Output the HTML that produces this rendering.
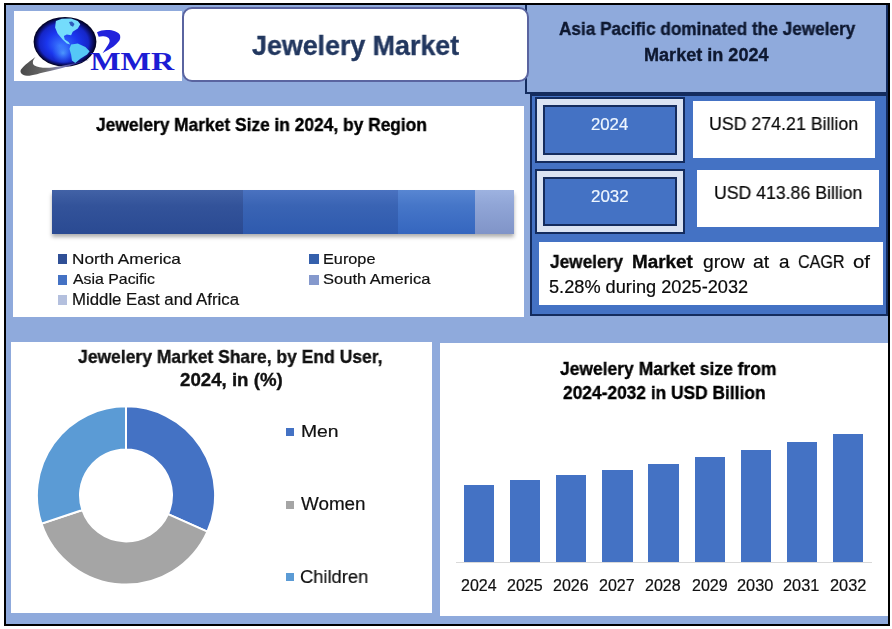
<!DOCTYPE html>
<html><head><meta charset="utf-8"><style>
html,body{margin:0;padding:0;}
body{width:892px;height:629px;position:relative;overflow:hidden;background:#fff;font-family:"Liberation Sans", sans-serif;}
.a{position:absolute;box-sizing:border-box;}
.t{position:absolute;white-space:nowrap;line-height:1;transform-origin:0 0;will-change:transform;}
.t{-webkit-text-stroke:0.2px currentColor;}
.t[style*="font-weight:700"]{-webkit-text-stroke:0.35px currentColor;}
</style></head>
<body>
<div class="a" style="left:4px;top:3px;width:886.00px;height:623.00px;border:2px solid #000;background:#8faadc;"></div>
<div class="a" style="left:14px;top:11px;width:168.00px;height:69.50px;background:#fff;"></div>
<div class="a" style="left:525px;top:5px;width:363.00px;height:89.00px;border-left:2px solid #142c5e;border-right:2px solid #142c5e;border-bottom:2px solid #142c5e;background:#8faadc;"></div>
<div class="a" style="left:182px;top:7px;width:346.60px;height:75.00px;border:2px solid #5a64a0;border-radius:10px;background:#fff;"></div>
<div class="a" style="left:13px;top:106px;width:511.00px;height:211.00px;background:#fff;"></div>
<div class="a" style="left:530px;top:94px;width:358.00px;height:222.00px;border:2px solid #142c5e;background:#4472c4;"></div>
<div class="a" style="left:535px;top:97px;width:150.00px;height:66.00px;border:2px solid #142c5e;background:#dae3f3;"></div>
<div class="a" style="left:543px;top:105px;width:134.00px;height:50.00px;border:2px solid #142c5e;background:#4472c4;"></div>
<div class="a" style="left:535px;top:168.5px;width:150.00px;height:65.80px;border:2px solid #142c5e;background:#dae3f3;"></div>
<div class="a" style="left:543px;top:176.5px;width:134.00px;height:49.80px;border:2px solid #142c5e;background:#4472c4;"></div>
<div class="a" style="left:693px;top:101px;width:182.40px;height:57.00px;background:#fff;"></div>
<div class="a" style="left:696.7px;top:169.7px;width:182.50px;height:57.50px;background:#fff;"></div>
<div class="a" style="left:539px;top:242.4px;width:344.00px;height:62.90px;background:#fff;"></div>
<div class="a" style="left:52px;top:191px;width:461.70px;height:42.50px;background:#888;box-shadow:0 3px 4px rgba(0,0,0,0.32);"></div>
<div class="a" style="left:52px;top:190px;width:191.00px;height:43.50px;background:linear-gradient(#4262a6,#33539a 35%,#2a4a92);"></div>
<div class="a" style="left:243px;top:190px;width:154.70px;height:43.50px;background:linear-gradient(#4a72c0,#3a64b4 35%,#2e5aae);"></div>
<div class="a" style="left:397.7px;top:190px;width:77.30px;height:43.50px;background:linear-gradient(#5886d2,#4676c8 35%,#3566bf);"></div>
<div class="a" style="left:475px;top:190px;width:38.70px;height:43.50px;background:linear-gradient(#9db2e0,#90a5d6 35%,#8094c8);"></div>
<div class="a" style="left:57.8px;top:254.4px;width:9.60px;height:9.60px;background:#2f4f96;"></div>
<div class="a" style="left:57.8px;top:275.3px;width:9.60px;height:9.60px;background:#4472c4;"></div>
<div class="a" style="left:57.8px;top:295.4px;width:9.60px;height:9.60px;background:#b4c0de;"></div>
<div class="a" style="left:309.2px;top:254.2px;width:9.60px;height:9.60px;background:#3560ac;"></div>
<div class="a" style="left:309.2px;top:275px;width:9.60px;height:9.60px;background:#8599cd;"></div>
<div class="a" style="left:11px;top:341.5px;width:420.50px;height:271.50px;background:#fff;"></div>
<div class="a" style="left:440px;top:342.5px;width:448.00px;height:273.30px;background:#fff;"></div>
<svg class="a" style="left:0;top:0" width="892" height="629" viewBox="0 0 892 629"><path d="M126.00,406.30 A89.1,89.1 0 0 1 207.40,531.64 L168.02,514.11 A46,46 0 0 0 126.00,449.40 Z" fill="#4472c4" stroke="#fff" stroke-width="2" stroke-linejoin="miter"/><path d="M207.40,531.64 A89.1,89.1 0 0 1 41.50,523.67 L82.38,510.00 A46,46 0 0 0 168.02,514.11 Z" fill="#a5a5a5" stroke="#fff" stroke-width="2" stroke-linejoin="miter"/><path d="M41.50,523.67 A89.1,89.1 0 0 1 126.00,406.30 L126.00,449.40 A46,46 0 0 0 82.38,510.00 Z" fill="#5b9bd5" stroke="#fff" stroke-width="2" stroke-linejoin="miter"/></svg>
<div class="a" style="left:285.7px;top:427.9px;width:8.80px;height:8.60px;background:#4472c4;"></div>
<div class="a" style="left:285.7px;top:500.7px;width:8.80px;height:8.60px;background:#a5a5a5;"></div>
<div class="a" style="left:285.7px;top:572.9px;width:8.80px;height:8.60px;background:#5b9bd5;"></div>
<div class="a" style="left:464.0px;top:485px;width:30.30px;height:77.00px;background:#4472c4;"></div>
<div class="a" style="left:510.1px;top:480px;width:30.30px;height:82.00px;background:#4472c4;"></div>
<div class="a" style="left:556.2px;top:475px;width:30.30px;height:87.00px;background:#4472c4;"></div>
<div class="a" style="left:602.3px;top:470px;width:30.30px;height:92.00px;background:#4472c4;"></div>
<div class="a" style="left:648.4px;top:464.2px;width:30.30px;height:97.80px;background:#4472c4;"></div>
<div class="a" style="left:694.5px;top:457px;width:30.30px;height:105.00px;background:#4472c4;"></div>
<div class="a" style="left:740.6px;top:449.5px;width:30.30px;height:112.50px;background:#4472c4;"></div>
<div class="a" style="left:786.7px;top:441.5px;width:30.30px;height:120.50px;background:#4472c4;"></div>
<div class="a" style="left:832.8px;top:433.5px;width:30.30px;height:128.50px;background:#4472c4;"></div>
<div class="a" style="left:456px;top:562px;width:416.00px;height:1.00px;background:#d9d9d9;"></div>
<svg class="a" style="left:14px;top:11px" width="168" height="70" viewBox="14 11 168 70">
<defs>
<radialGradient id="gl" cx="0.5" cy="0.5" r="0.5" fx="0.42" fy="0.58">
<stop offset="0" stop-color="#3a78ff"/>
<stop offset="0.5" stop-color="#1a36ee"/>
<stop offset="0.78" stop-color="#1526c8"/>
<stop offset="0.9" stop-color="#0a0e66"/>
<stop offset="1" stop-color="#000018"/>
</radialGradient>
<radialGradient id="glow" cx="0.5" cy="0.5" r="0.5">
<stop offset="0" stop-color="#5ab0ff" stop-opacity="0.75"/>
<stop offset="1" stop-color="#3a80ff" stop-opacity="0"/>
</radialGradient>
<linearGradient id="sw" x1="21" y1="0" x2="90" y2="0" gradientUnits="userSpaceOnUse">
<stop offset="0" stop-color="#4a4a4a"/>
<stop offset="0.35" stop-color="#6a6a6a"/>
<stop offset="0.55" stop-color="#8a8ab0"/>
<stop offset="0.8" stop-color="#3030a0"/>
<stop offset="1" stop-color="#101060"/>
</linearGradient>
</defs>
<ellipse cx="65" cy="41.8" rx="31.4" ry="24.9" fill="url(#gl)"/>
<ellipse cx="63" cy="53" rx="11" ry="11" fill="url(#glow)"/>
<path d="M55.9,20.9 L61.8,18.8 L71.1,18.4 L77.8,20.9 L80.3,24.3 L77.8,28.5 L72.7,31.8 L71.1,35.2 L66.8,34.4 L63.9,36.1 L64.7,39.4 L68.5,42 L70.2,44.5 L66.8,43.6 L62.6,39.4 L57.6,33.5 L55.1,27.6 Z" fill="#74dcfc"/>
<path d="M69,22 L72,21.5 L74.5,24 L73,26.8 L70.5,25.5 Z" fill="#1530a8" opacity="0.75"/>
<path d="M71.1,44.5 L77.8,43.6 L85.4,47 L89.6,51.2 L87.1,54.6 L80.3,58.8 L75.3,63 L71.9,60.5 L71.1,54.6 L69.4,48.7 Z" fill="#55c8f6"/>
<path d="M35.5,57 C31,60 24,65.5 21,69.5 C19.5,72 21.5,75.5 27,75.8 C32,76 40,73 50,71 C62,68.5 76,64 90,59.5 C78,62.5 64,66 52,67.5 C45,68.3 38,67.5 34.5,65.5 C32,64 32.5,60 35.5,57 Z" fill="url(#sw)"/>
<path d="M97,32.2 C100,30.8 103,30.1 106.3,30.1 C110,30 112.5,30.4 114.9,31.2 C118,32.5 120,34 120.1,35.5 C120.5,38 120,39.5 119.2,40.8 C117,43.5 115.5,45 113.5,46.5 C110,49 106,51 102.5,53.2 C104,51 105,49.5 106.3,47.5 C108,45 109.5,43 109.6,41.3 C109.8,39.5 109,38 107.7,37.4 C106,36.5 104,36.3 102.5,36.3 C101,36.3 99.8,36.5 98.7,36.7 Z" fill="#2222dc"/>
<text x="90.2" y="70.4" font-family="Liberation Serif, serif" font-weight="700" font-size="25.5" fill="#1c1cd4" textLength="84" lengthAdjust="spacingAndGlyphs">MMR</text>
</svg>

<div id="title" class="t" style="left:251.60px;top:32.27px;font-size:27.33px;font-weight:700;color:#22375f;transform:scaleX(0.9810)">Jewelery Market</div>
<div id="hd1" class="t" style="left:559.00px;top:21.24px;font-size:17.44px;font-weight:700;color:#0e1830;transform:scaleX(0.9860)">Asia Pacific dominated the Jewelery</div>
<div id="hd2" class="t" style="left:644.00px;top:46.84px;font-size:17.44px;font-weight:700;color:#0e1830;transform:scaleX(1.0362)">Market in 2024</div>
<div id="rt" class="t" style="left:95.80px;top:117.39px;font-size:17.97px;font-weight:700;color:#000000;transform:scaleX(0.9669)">Jewelery Market Size in 2024, by Region</div>
<div id="lg1" class="t" style="left:72.40px;top:251.23px;font-size:15.56px;font-weight:400;color:#111111;transform:scaleX(1.1056)">North America</div>
<div id="lg2" class="t" style="left:73.40px;top:271.43px;font-size:15.56px;font-weight:400;color:#111111;transform:scaleX(1.0201)">Asia Pacific</div>
<div id="lg3" class="t" style="left:72.40px;top:291.45px;font-size:16.49px;font-weight:400;color:#111111;transform:scaleX(1.0183)">Middle East and Africa</div>
<div id="lg4" class="t" style="left:323.00px;top:251.23px;font-size:15.56px;font-weight:400;color:#111111;transform:scaleX(1.0456)">Europe</div>
<div id="lg5" class="t" style="left:323.00px;top:271.43px;font-size:15.56px;font-weight:400;color:#111111;transform:scaleX(1.0620)">South America</div>
<div id="y1" class="t" style="left:591.00px;top:116.10px;font-size:16.42px;font-weight:400;color:#eef6ff;transform:scaleX(1.0204)">2024</div>
<div id="y2" class="t" style="left:591.00px;top:188.34px;font-size:16.13px;font-weight:400;color:#eef6ff;transform:scaleX(1.0504)">2032</div>
<div id="u1" class="t" style="left:709.00px;top:114.54px;font-size:18.02px;font-weight:400;color:#0a0a0a;transform:scaleX(0.9860)">USD 274.21 Billion</div>
<div id="u2" class="t" style="left:713.60px;top:183.54px;font-size:18.02px;font-weight:400;color:#0a0a0a;transform:scaleX(0.9806)">USD 413.86 Billion</div>
<div id="c1" class="t" style="left:550.20px;top:253.24px;font-size:18.73px;font-weight:700;color:#0a0a0a;transform:scaleX(0.9218)">Jewelery</div>
<div id="c2" class="t" style="left:632.40px;top:253.24px;font-size:18.73px;font-weight:700;color:#0a0a0a;transform:scaleX(1.0075)">Market</div>
<div id="c3" class="t" style="left:702.80px;top:253.24px;font-size:18.73px;font-weight:400;color:#0a0a0a;transform:scaleX(1.0284)">grow</div>
<div id="c4" class="t" style="left:753.20px;top:253.24px;font-size:18.73px;font-weight:400;color:#0a0a0a;transform:scaleX(1.0375)">at</div>
<div id="c5" class="t" style="left:778.60px;top:253.24px;font-size:18.73px;font-weight:400;color:#0a0a0a;transform:scaleX(1.0080)">a</div>
<div id="c6" class="t" style="left:798.40px;top:253.24px;font-size:18.73px;font-weight:400;color:#0a0a0a;transform:scaleX(0.8610)">CAGR</div>
<div id="c7" class="t" style="left:853.00px;top:253.24px;font-size:18.73px;font-weight:400;color:#0a0a0a;transform:scaleX(1.0902)">of</div>
<div id="c8" class="t" style="left:549.40px;top:278.71px;font-size:17.59px;font-weight:400;color:#0a0a0a;transform:scaleX(1.0346)">5.28% during 2025-2032</div>
<div id="dt1" class="t" style="left:78.00px;top:348.05px;font-size:18.72px;font-weight:700;color:#111111;transform:scaleX(0.9356)">Jewelery Market Share, by End User,</div>
<div id="dt2" class="t" style="left:180.40px;top:371.12px;font-size:18.29px;font-weight:700;color:#111111;transform:scaleX(1.0214)">2024, in (%)</div>
<div id="dl1" class="t" style="left:300.80px;top:424.13px;font-size:16.73px;font-weight:400;color:#111111;transform:scaleX(1.1570)">Men</div>
<div id="dl2" class="t" style="left:301.00px;top:494.83px;font-size:18.75px;font-weight:400;color:#111111;transform:scaleX(1.0049)">Women</div>
<div id="dl3" class="t" style="left:300.00px;top:567.53px;font-size:18.75px;font-weight:400;color:#111111;transform:scaleX(0.9767)">Children</div>
<div id="bt1" class="t" style="left:560.20px;top:359.85px;font-size:18.02px;font-weight:700;color:#000000;transform:scaleX(0.9693)">Jewelery Market size from</div>
<div id="bt2" class="t" style="left:562.60px;top:384.33px;font-size:18.75px;font-weight:700;color:#000000;transform:scaleX(0.9254)">2024-2032 in USD Billion</div>
<div id="bl0" class="t" style="left:460.60px;top:577.72px;font-size:15.57px;font-weight:400;color:#111111;transform:scaleX(1.0275)">2024</div>
<div id="bl1" class="t" style="left:507.00px;top:577.72px;font-size:15.57px;font-weight:400;color:#111111;transform:scaleX(1.0302)">2025</div>
<div id="bl2" class="t" style="left:553.40px;top:577.72px;font-size:15.57px;font-weight:400;color:#111111;transform:scaleX(1.0302)">2026</div>
<div id="bl3" class="t" style="left:598.80px;top:577.72px;font-size:15.57px;font-weight:400;color:#111111;transform:scaleX(1.0302)">2027</div>
<div id="bl4" class="t" style="left:645.20px;top:577.72px;font-size:15.57px;font-weight:400;color:#111111;transform:scaleX(1.0302)">2028</div>
<div id="bl5" class="t" style="left:691.60px;top:577.72px;font-size:15.57px;font-weight:400;color:#111111;transform:scaleX(1.0302)">2029</div>
<div id="bl6" class="t" style="left:737.00px;top:577.72px;font-size:15.57px;font-weight:400;color:#111111;transform:scaleX(1.0511)">2030</div>
<div id="bl7" class="t" style="left:783.40px;top:577.72px;font-size:15.57px;font-weight:400;color:#111111;transform:scaleX(1.0511)">2031</div>
<div id="bl8" class="t" style="left:829.80px;top:577.72px;font-size:15.57px;font-weight:400;color:#111111;transform:scaleX(1.0511)">2032</div>
</body></html>
